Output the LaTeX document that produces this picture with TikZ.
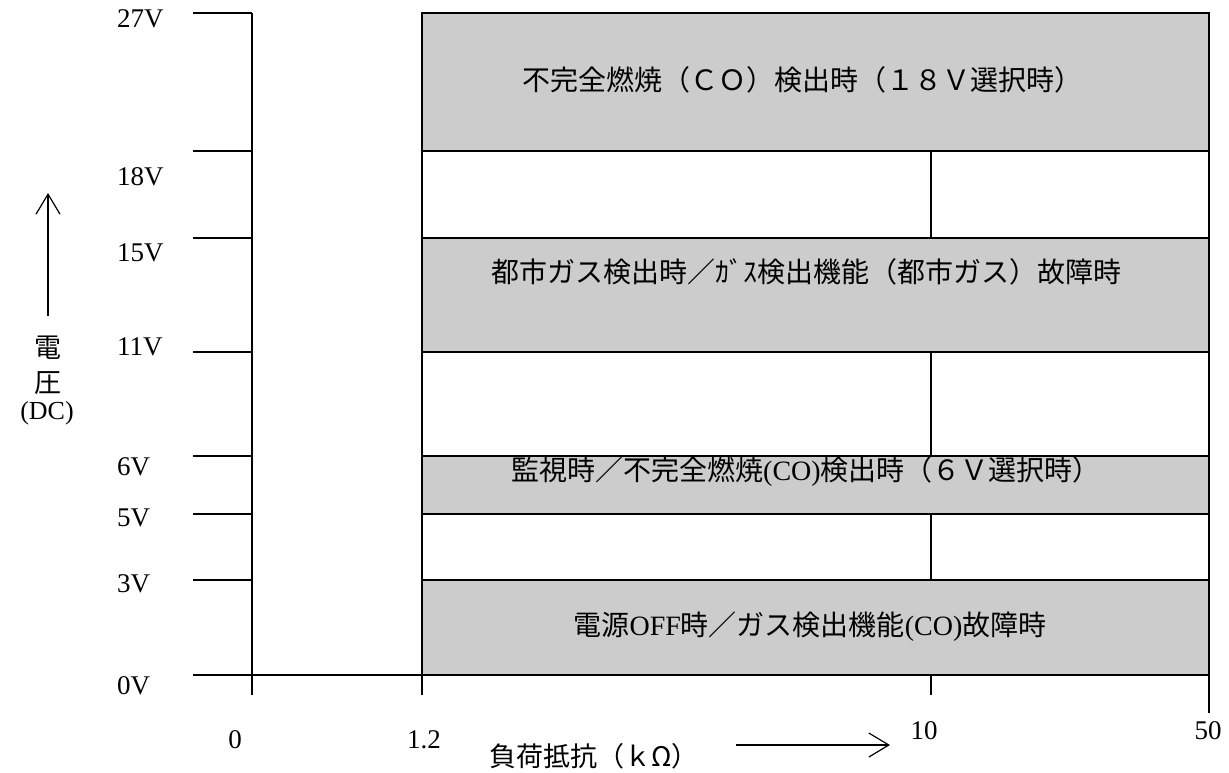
\documentclass[tikz,border=0pt]{standalone}
\usepackage{fontspec}
\setmainfont{Liberation Serif}
\newfontfamily\cjk{Noto Sans CJK JP}
\usetikzlibrary{arrows.meta}
\definecolor{bandgray}{RGB}{204,204,204}
\begin{document}
\begin{tikzpicture}[x=1pt,y=-1pt,
  ln/.style={line width=1.6pt},
  band/.style={fill=bandgray, draw=black, line width=1.6pt},
  vlab/.style={anchor=west, font=\fontsize{27}{29}\selectfont, inner sep=0pt},
  hlab/.style={font=\fontsize{27}{29}\selectfont, inner sep=0pt},
  blab/.style={font=\fontsize{28}{30}\selectfont, inner sep=0pt},
  arr/.style={-{Straight Barb[length=20pt,width=24pt,line width=1.2pt]}, line width=1.2pt}]
\useasboundingbox (0,0) rectangle (1229,773);
% shaded bands
\draw[band] (422,13) rectangle (1209,151);
\draw[band] (422,238) rectangle (1209,352);
\draw[band] (422,456) rectangle (1209,514);
\draw[band] (422,580) rectangle (1209,675);
% coordinates
\foreach \n/\y in {a/13,b/151,c/238,d/352,e/456,f/514,g/580,h/675}{
  \coordinate (t\n) at (193,\y);
  \coordinate (y\n) at (252,\y);
  \coordinate (l\n) at (422,\y);
  \coordinate (m\n) at (931,\y);
  \coordinate (r\n) at (1209,\y);
}
\coordinate (ybot) at (252,695);
\coordinate (lbot) at (422,695);
\coordinate (mbot) at (931,695);
\coordinate (rbot) at (1209,713);
% axis and ticks
\foreach \n in {a,b,c,d,e,f,g}{ \draw[ln] (t\n) -- (y\n); }
\draw[ln] (th) -- (rh);
\draw[ln] (ya) -- (ybot);
\draw[ln] (la) -- (lbot);
\draw[ln] (ra) -- (rbot);
% white rows dividers
\draw[ln] (mb) -- (mc);
\draw[ln] (md) -- (me);
\draw[ln] (mf) -- (mg);
\draw[ln] (mh) -- (mbot);
% left axis labels
\node[vlab] (v27) at (117,19) {27V};
\node[vlab] (v18) at (117,177) {18V};
\node[vlab] (v15) at (117,253) {15V};
\node[vlab] (v11) at (117,347) {11V};
\node[vlab] (v6) at (117,467) {6V};
\node[vlab] (v5) at (117,518) {5V};
\node[vlab] (v3) at (117,584) {3V};
\node[vlab] (v0) at (117,686) {0V};
% vertical axis title
\coordinate (va0) at (48,316);
\coordinate (va1) at (48,193);
\draw[arr] (va0) -- (va1);
\node[blab,font=\fontsize{27}{29}\selectfont\cjk] (den) at (48,348) {電};
\node[blab,font=\fontsize{27}{29}\selectfont\cjk] (atsu) at (48,383) {圧};
\node[hlab,font=\fontsize{26}{28}\selectfont] (dc) at (47,413) {(DC)};
% x labels
\node[hlab] (x0) at (235,740) {0};
\node[hlab] (x12) at (424,740) {1.2};
\node[hlab] (x10) at (924,731) {10};
\node[hlab] (x50) at (1208,731) {50};
\node[blab,font=\fontsize{27}{29}\selectfont\cjk] (xt) at (594,756) {負荷抵抗（ｋΩ）};
\coordinate (ha0) at (736,745);
\coordinate (ha1) at (890,745);
\draw[arr] (ha0) -- (ha1);
% band texts
\node[blab] (t1) at (802,80) {{\cjk 不完全燃焼（ＣＯ）検出時（１８Ｖ選択時）}};
\node[blab] (t2) at (806,272) {{\cjk 都市ガス検出時／ｶﾞｽ検出機能（都市ガス）故障時}};
\node[blab] (t3) at (806,471) {{\cjk 監視時／不完全燃焼}(CO){\cjk 検出時（６Ｖ選択時）}};
\node[blab] (t4) at (810,627) {{\cjk 電源}OFF{\cjk 時／ガス検出機能}(CO){\cjk 故障時}};
\end{tikzpicture}
\end{document}
